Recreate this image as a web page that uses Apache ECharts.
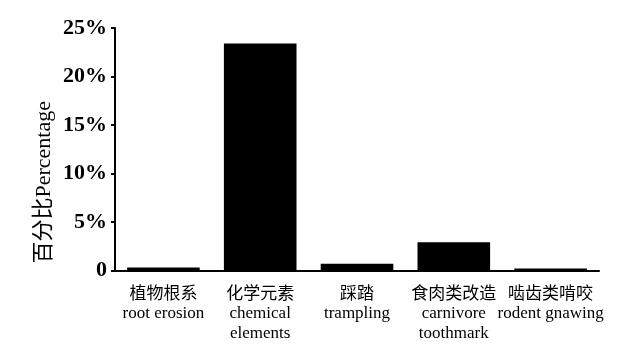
<!DOCTYPE html>
<html><head><meta charset="utf-8">
<script src="https://cdn.jsdelivr.net/npm/echarts@6/dist/echarts.min.js"></script>
<style>html,body{margin:0;padding:0;background:#fff}#c{width:635px;height:354px}</style>
</head><body><div id="c"></div>
<script>
const categories = ["植物根系\nroot erosion", "化学元素\nchemical\nelements", "踩踏\ntrampling", "食肉类改造\ncarnivore\ntoothmark", "啮齿类啃咬\nrodent gnawing"];
const values = [0.3, 23.4, 0.7, 2.9, 0.2];
const yTicks = [0, 5, 10, 15, 20, 25];
const yName = "百分比Percentage";

const serif = '"Liberation Serif", "DejaVu Serif", "Noto Sans CJK SC", serif';
const chart = echarts.init(document.getElementById('c'), null, {renderer: 'canvas'});
chart.setOption({
  animation: false,
  backgroundColor: '#fff',
  grid: {left: 115, right: 36, top: 28, bottom: 83.5},
  xAxis: {
    type: 'category',
    data: categories,
    axisLine: {lineStyle: {color: '#000', width: 2}},
    axisTick: {show: false},
    axisLabel: {color: '#000', fontFamily: serif, fontSize: 17, lineHeight: 19.5, margin: 14, interval: 0}
  },
  yAxis: {
    type: 'value',
    min: yTicks[0], max: yTicks[yTicks.length - 1], interval: 5,
    name: yName,
    nameLocation: 'middle',
    nameGap: 60,
    nameMoveOverlap: false,
    nameTextStyle: {color: '#000', fontFamily: serif, fontSize: 22, padding: [0, 66, 0, 0]},
    splitLine: {show: false},
    axisLine: {show: true, lineStyle: {color: '#000', width: 2}},
    axisTick: {show: true, length: 4, lineStyle: {color: '#000', width: 2}},
    axisLabel: {color: '#000', fontFamily: serif, fontSize: 22, fontWeight: 'bold', margin: 8,
      formatter: v => v === 0 ? '0' : v + '%'}
  },
  series: [{
    type: 'bar',
    data: values,
    barCategoryGap: '25%',
    itemStyle: {color: '#000'}
  }]
});
</script></body></html>
